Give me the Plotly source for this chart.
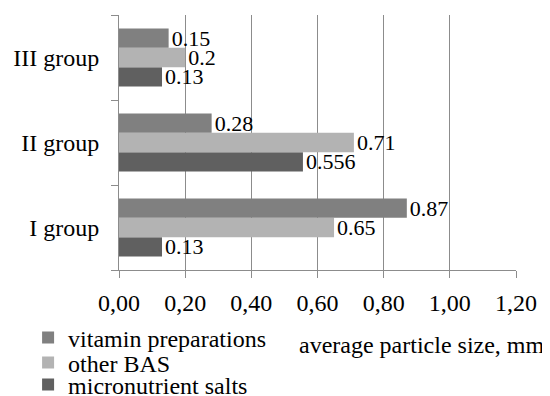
import plotly.graph_objects as go

categories = ["I group", "II group", "III group"]
vitamin = [0.87, 0.28, 0.15]
other_bas = [0.65, 0.71, 0.2]
micronutrient = [0.13, 0.556, 0.13]
series_names = ["micronutrient salts", "other BAS", "vitamin preparations"]
series_values = [micronutrient, other_bas, vitamin]
series_colors = ["#606060", "#b3b3b3", "#808080"]
series_legends = ["legend3", "legend2", "legend"]
x_ticks = [0, 0.2, 0.4, 0.6, 0.8, 1.0, 1.2]
x_title = "average particle size, mm"

FONT = "Liberation Serif"
FS = 24
FS_LABEL = 22

fig = go.Figure()
for name, vals, col, lg in zip(series_names, series_values, series_colors, series_legends):
    fig.add_trace(go.Bar(
        y=categories, x=vals, name=name, orientation="h", legend=lg,
        marker=dict(color=col, line=dict(width=0)),
        text=[str(v) for v in vals], textposition="outside",
        textfont=dict(family=FONT, size=FS_LABEL, color="black"),
        constraintext="none", cliponaxis=False,
    ))

def leg(y):
    return dict(x=-0.229, xanchor="left", y=y, yanchor="middle",
                font=dict(family=FONT, size=FS, color="black"),
                bgcolor="rgba(0,0,0,0)", itemwidth=30)

fig.update_layout(
    width=542, height=388,
    margin=dict(l=111, r=34, t=7, b=126, autoexpand=False),
    plot_bgcolor="white", paper_bgcolor="white",
    barmode="group", bargap=0.32, bargroupgap=0,
    separators=",.",
    font=dict(family=FONT, size=FS, color="black"),
    showlegend=True,
    legend=leg(-0.2667),
    legend2=leg(-0.3647),
    legend3=leg(-0.4510),
    xaxis=dict(range=[0, 1.2], tickvals=x_ticks, tickformat=".2f",
               showgrid=True, gridcolor="#8c8c8c", gridwidth=1,
               showline=True, linecolor="#8c8c8c", linewidth=1,
               ticks="outside", ticklen=7, tickcolor="#8c8c8c",
               ticklabelstandoff=4, zeroline=False, automargin=False),
    yaxis=dict(showgrid=False, showline=True, linecolor="#8c8c8c", linewidth=1,
               ticks="outside", ticklen=7, tickcolor="#8c8c8c", tickson="boundaries",
               ticklabelstandoff=14, zeroline=False, automargin=False),
    annotations=[dict(text=x_title, xref="paper", yref="paper", x=1.078, y=-0.294,
                      xanchor="right", yanchor="middle", showarrow=False,
                      font=dict(family=FONT, size=FS, color="black"))],
)

fig.write_html("out.html")
